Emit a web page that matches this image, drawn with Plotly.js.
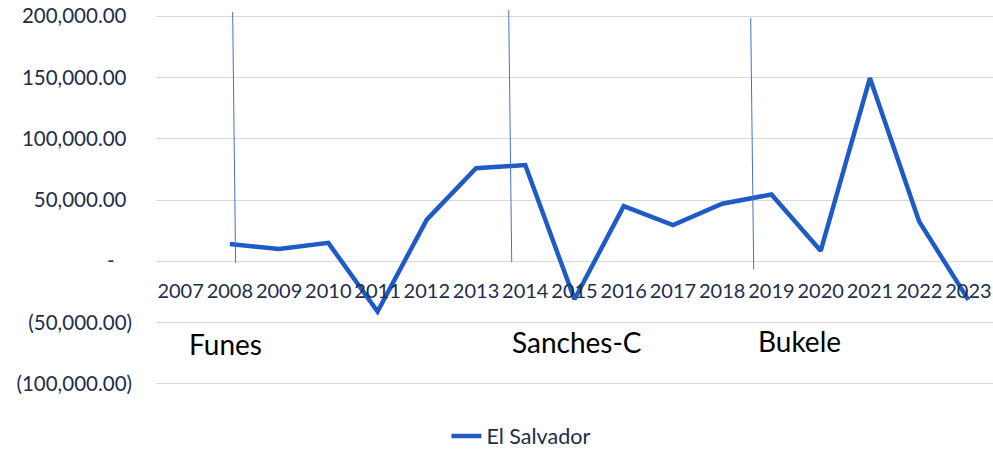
<!DOCTYPE html>
<html>
<head>
<meta charset="utf-8">
<script src="https://cdn.plot.ly/plotly-3.0.1.min.js"></script>
<style>html,body{margin:0;padding:0;background:#fff;}#chart{width:993px;height:449px;}</style>
</head>
<body>
<div id="chart"></div>
<script>
// Data
const years = ['2007','2008','2009','2010','2011','2012','2013','2014','2015','2016','2017','2018','2019','2020','2021','2022','2023'];
const elSalvador = [null, 14000, 10000, 15000, -41000, 34000, 76000, 78500, -31000, 45000, 29500, 47000, 54500, 8500, 149500, 32500, -31500];
const yTickVals = [-100000, -50000, 0, 50000, 100000, 150000, 200000];
const hid = "<span style='color:rgba(0,0,0,0)'>)</span>";
const yTickText = ['(100,000.00)', '(50,000.00)', "-<span style='color:rgba(0,0,0,0)'>0)</span>", '50,000.00' + hid, '100,000.00' + hid, '150,000.00' + hid, '200,000.00' + hid];
const presidents = ['Funes', 'Sanches-C', 'Bukele'];

const tickColor = '#1E2D4A';
const gridColor = '#D9D9D9';

const trace = {
  x: years,
  y: elSalvador,
  type: 'scatter',
  mode: 'lines',
  name: 'El Salvador',
  connectgaps: false,
  line: {color: '#1F5BC6', width: 4.5},
  hoverinfo: 'x+y'
};

const vline = (x0, y0, x1, y1) => ({
  type: 'line', xref: 'paper', yref: 'paper', x0: x0, y0: y0, x1: x1, y1: y1,
  line: {color: '#4472C4', width: 1}
});

const labelFont = {family: 'Lato, "Open Sans", sans-serif', size: 28, color: '#000000'};

const layout = {
  width: 993,
  height: 449,
  margin: {l: 156, r: 0, t: 15, b: 64, autoexpand: false},
  paper_bgcolor: '#ffffff',
  plot_bgcolor: '#ffffff',
  font: {family: 'Lato, "Open Sans", sans-serif', color: tickColor},
  showlegend: true,
  legend: {
    orientation: 'h', x: 0.347, xanchor: 'left', y: -0.138, yanchor: 'middle',
    font: {size: 21.5, color: tickColor}, bgcolor: 'rgba(0,0,0,0)'
  },
  xaxis: {
    type: 'category',
    range: [-0.5, 16.5],
    anchor: 'free',
    position: 101000 / 302000,
    tickmode: 'linear', tick0: 0, dtick: 1,
    tickangle: 0,
    showgrid: false,
    showline: false,
    zeroline: false,
    ticks: '',
    ticklabelstandoff: 16,
    tickfont: {size: 20, color: tickColor}
  },
  yaxis: {
    range: [-101000, 201000],
    tickmode: 'array',
    tickvals: yTickVals,
    ticktext: yTickText,
    showgrid: true,
    gridcolor: gridColor,
    gridwidth: 1,
    zeroline: true,
    zerolinecolor: gridColor,
    zerolinewidth: 1,
    showline: false,
    ticks: '',
    ticklabelstandoff: 23,
    tickfont: {size: 20.5, color: tickColor}
  },
  shapes: [
    vline(0.0916, 1.0081, 0.0951, 0.3297),
    vline(0.4214, 1.0135, 0.4250, 0.3324),
    vline(0.7105, 0.9919, 0.7141, 0.3127)
  ],
  annotations: [
    {text: presidents[0], xref: 'x', yref: 'y', x: 0.12, y: -67300, xanchor: 'left', yanchor: 'middle', showarrow: false, font: labelFont},
    {text: presidents[1], xref: 'x', yref: 'y', x: 6.69, y: -65500, xanchor: 'left', yanchor: 'middle', showarrow: false, font: labelFont},
    {text: presidents[2], xref: 'x', yref: 'y', x: 11.68, y: -65000, xanchor: 'left', yanchor: 'middle', showarrow: false, font: labelFont}
  ]
};

Plotly.newPlot('chart', [trace], layout, {displayModeBar: false, responsive: false});
</script>
</body>
</html>
